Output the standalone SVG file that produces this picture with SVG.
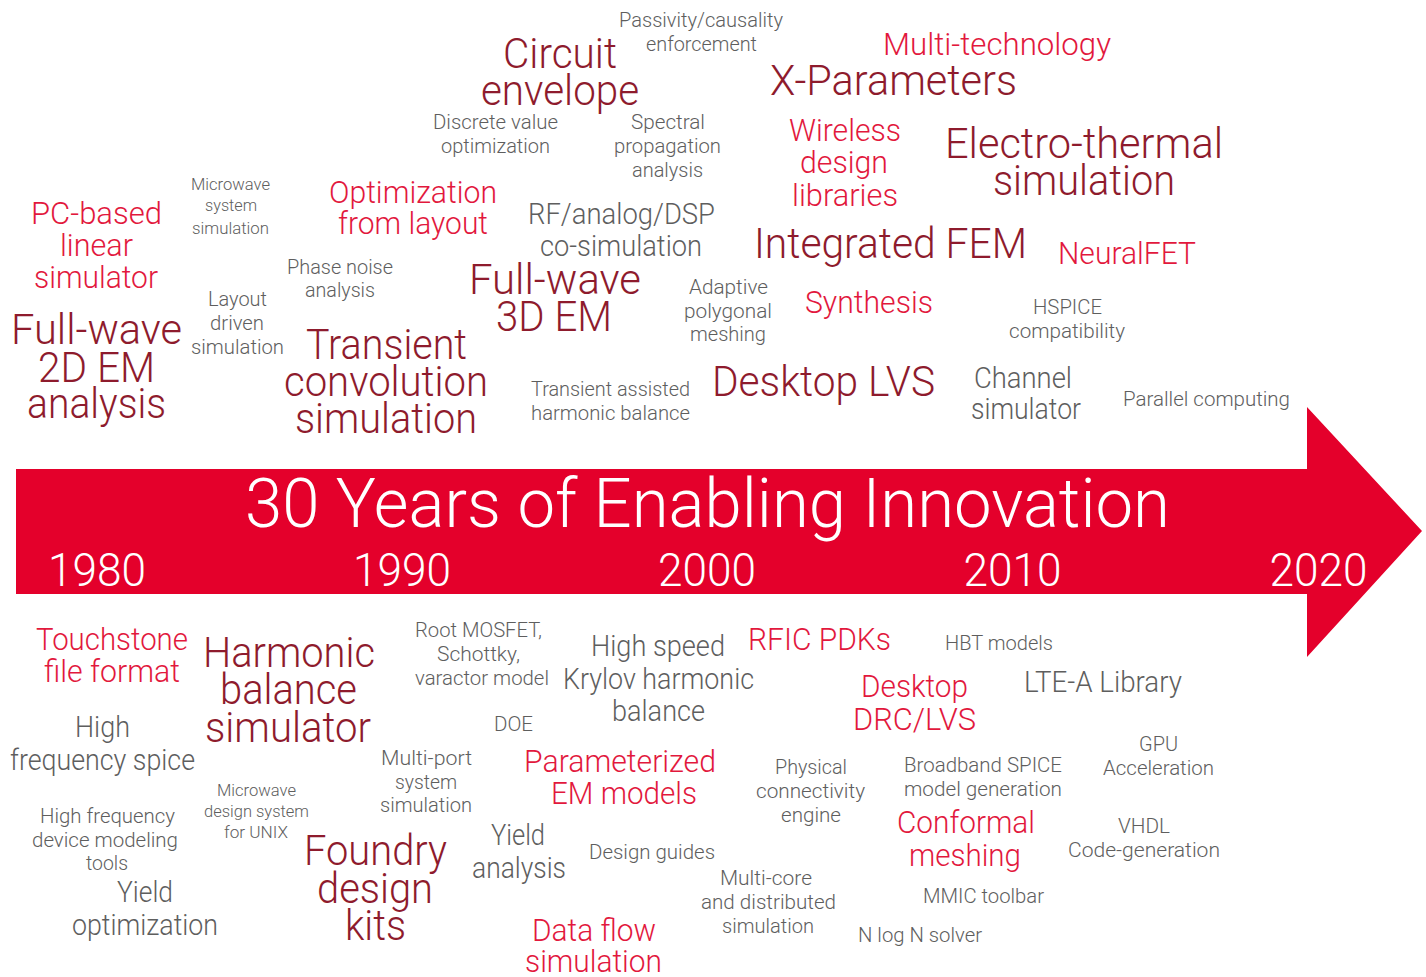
<svg xmlns="http://www.w3.org/2000/svg" width="1426" height="977" viewBox="0 0 1426 977">
<style>
text{font-family:Roboto,"Liberation Sans",sans-serif;font-weight:300;text-anchor:middle}
.dr{fill:#8e1b2d;font-size:42px}
.r{fill:#e2183d;font-size:31px}
.gm{fill:#5e5e5e;font-size:29px}
.gs{fill:#5e5e5e;font-size:21px}
.gt{fill:#5e5e5e;font-size:17px}
.w{fill:#ffffff}
</style>
<rect width="1426" height="977" fill="#ffffff"/>
<g id="arrow">
<polygon points="16,469 1307,469 1307,407 1422,531 1307,657 1307,594 16,594" fill="#e4002b"/>
<text class="w" x="707.5" y="527" font-size="68" textLength="925" lengthAdjust="spacingAndGlyphs">30 Years of Enabling Innovation</text>
<text class="w" x="97" y="586" font-size="47" textLength="98" lengthAdjust="spacingAndGlyphs">1980</text>
<text class="w" x="402" y="586" font-size="47" textLength="98" lengthAdjust="spacingAndGlyphs">1990</text>
<text class="w" x="707" y="586" font-size="47" textLength="98" lengthAdjust="spacingAndGlyphs">2000</text>
<text class="w" x="1012.5" y="586" font-size="47" textLength="98" lengthAdjust="spacingAndGlyphs">2010</text>
<text class="w" x="1318.5" y="586" font-size="47" textLength="98" lengthAdjust="spacingAndGlyphs">2020</text>
</g>
<g id="connectors"></g>
<g id="passivity"><text class="gs" x="701" y="27" textLength="164" lengthAdjust="spacingAndGlyphs">Passivity/causality</text><text class="gs" x="701.5" y="51" textLength="111" lengthAdjust="spacingAndGlyphs">enforcement</text></g>
<g id="circuit-envelope"><text class="dr" x="560" y="68" textLength="114" lengthAdjust="spacingAndGlyphs">Circuit</text><text class="dr" x="560" y="105" textLength="158" lengthAdjust="spacingAndGlyphs">envelope</text></g>
<g id="discrete"><text class="gs" x="495.5" y="129" textLength="125" lengthAdjust="spacingAndGlyphs">Discrete value</text><text class="gs" x="495.5" y="153" textLength="109" lengthAdjust="spacingAndGlyphs">optimization</text></g>
<g id="spectral"><text class="gs" x="668" y="129" textLength="74" lengthAdjust="spacingAndGlyphs">Spectral</text><text class="gs" x="667.5" y="153" textLength="107" lengthAdjust="spacingAndGlyphs">propagation</text><text class="gs" x="667.5" y="177" textLength="71" lengthAdjust="spacingAndGlyphs">analysis</text></g>
<g id="multi-tech"><text class="r" x="997" y="55" textLength="228" lengthAdjust="spacingAndGlyphs">Multi-technology</text></g>
<g id="x-params"><text class="dr" x="893.5" y="95" textLength="247" lengthAdjust="spacingAndGlyphs">X-Parameters</text></g>
<g id="wireless"><text class="r" x="845" y="141" textLength="112" lengthAdjust="spacingAndGlyphs">Wireless</text><text class="r" x="844" y="173" textLength="88" lengthAdjust="spacingAndGlyphs">design</text><text class="r" x="845" y="206" textLength="106" lengthAdjust="spacingAndGlyphs">libraries</text></g>
<g id="electro-thermal"><text class="dr" x="1084" y="158" textLength="278" lengthAdjust="spacingAndGlyphs">Electro-thermal</text><text class="dr" x="1084" y="195" textLength="182" lengthAdjust="spacingAndGlyphs">simulation</text></g>
<g id="mw-system"><text class="gt" x="230.5" y="190" textLength="79" lengthAdjust="spacingAndGlyphs">Microwave</text><text class="gt" x="231" y="211" textLength="52" lengthAdjust="spacingAndGlyphs">system</text><text class="gt" x="230.5" y="234" textLength="77" lengthAdjust="spacingAndGlyphs">simulation</text></g>
<g id="pc-based"><text class="r" x="96.5" y="224" textLength="131" lengthAdjust="spacingAndGlyphs">PC-based</text><text class="r" x="96.5" y="256" textLength="73" lengthAdjust="spacingAndGlyphs">linear</text><text class="r" x="96" y="288" textLength="124" lengthAdjust="spacingAndGlyphs">simulator</text></g>
<g id="opt-layout"><text class="r" x="413" y="203" textLength="168" lengthAdjust="spacingAndGlyphs">Optimization</text><text class="r" x="413" y="234" textLength="150" lengthAdjust="spacingAndGlyphs">from layout</text></g>
<g id="rf-dsp"><text class="gm" x="621.5" y="224" textLength="187" lengthAdjust="spacingAndGlyphs">RF/analog/DSP</text><text class="gm" x="621" y="256" textLength="162" lengthAdjust="spacingAndGlyphs">co-simulation</text></g>
<g id="int-fem"><text class="dr" x="890.5" y="258" textLength="273" lengthAdjust="spacingAndGlyphs">Integrated FEM</text></g>
<g id="neuralfet"><text class="r" x="1127" y="264" textLength="138" lengthAdjust="spacingAndGlyphs">NeuralFET</text></g>
<g id="phase-noise"><text class="gs" x="340" y="274" textLength="106" lengthAdjust="spacingAndGlyphs">Phase noise</text><text class="gs" x="340" y="297" textLength="70" lengthAdjust="spacingAndGlyphs">analysis</text></g>
<g id="fw-3d"><text class="dr" x="555" y="294" textLength="172" lengthAdjust="spacingAndGlyphs">Full-wave</text><text class="dr" x="554" y="331" textLength="116" lengthAdjust="spacingAndGlyphs">3D EM</text></g>
<g id="adaptive"><text class="gs" x="728.5" y="294" textLength="79" lengthAdjust="spacingAndGlyphs">Adaptive</text><text class="gs" x="728" y="318" textLength="88" lengthAdjust="spacingAndGlyphs">polygonal</text><text class="gs" x="728" y="341" textLength="76" lengthAdjust="spacingAndGlyphs">meshing</text></g>
<g id="synthesis"><text class="r" x="869" y="313" textLength="128" lengthAdjust="spacingAndGlyphs">Synthesis</text></g>
<g id="hspice"><text class="gs" x="1067.5" y="314" textLength="69" lengthAdjust="spacingAndGlyphs">HSPICE</text><text class="gs" x="1067" y="338" textLength="116" lengthAdjust="spacingAndGlyphs">compatibility</text></g>
<g id="layout-driven"><text class="gs" x="237.5" y="306" textLength="59" lengthAdjust="spacingAndGlyphs">Layout</text><text class="gs" x="237" y="330" textLength="54" lengthAdjust="spacingAndGlyphs">driven</text><text class="gs" x="237.5" y="354" textLength="93" lengthAdjust="spacingAndGlyphs">simulation</text></g>
<g id="fw-2d"><text class="dr" x="96.5" y="344" textLength="171" lengthAdjust="spacingAndGlyphs">Full-wave</text><text class="dr" x="96.5" y="382" textLength="117" lengthAdjust="spacingAndGlyphs">2D EM</text><text class="dr" x="96.5" y="418" textLength="139" lengthAdjust="spacingAndGlyphs">analysis</text></g>
<g id="transient-conv"><text class="dr" x="386.5" y="359" textLength="161" lengthAdjust="spacingAndGlyphs">Transient</text><text class="dr" x="386" y="396" textLength="204" lengthAdjust="spacingAndGlyphs">convolution</text><text class="dr" x="386" y="433" textLength="182" lengthAdjust="spacingAndGlyphs">simulation</text></g>
<g id="tahb"><text class="gs" x="610.5" y="396" textLength="159" lengthAdjust="spacingAndGlyphs">Transient assisted</text><text class="gs" x="610.5" y="420" textLength="159" lengthAdjust="spacingAndGlyphs">harmonic balance</text></g>
<g id="desktop-lvs"><text class="dr" x="823.5" y="396" textLength="223" lengthAdjust="spacingAndGlyphs">Desktop LVS</text></g>
<g id="channel"><text class="gm" x="1023" y="388" textLength="98" lengthAdjust="spacingAndGlyphs">Channel</text><text class="gm" x="1026" y="419" textLength="110" lengthAdjust="spacingAndGlyphs">simulator</text></g>
<g id="parallel"><text class="gs" x="1206.5" y="406" textLength="167" lengthAdjust="spacingAndGlyphs">Parallel computing</text></g>
<g id="touchstone"><text class="r" x="112" y="650" textLength="152" lengthAdjust="spacingAndGlyphs">Touchstone</text><text class="r" x="112" y="682" textLength="136" lengthAdjust="spacingAndGlyphs">file format</text></g>
<g id="harmonic"><text class="dr" x="289" y="667" textLength="172" lengthAdjust="spacingAndGlyphs">Harmonic</text><text class="dr" x="288.5" y="704" textLength="137" lengthAdjust="spacingAndGlyphs">balance</text><text class="dr" x="288" y="742" textLength="166" lengthAdjust="spacingAndGlyphs">simulator</text></g>
<g id="root-mosfet"><text class="gs" x="478.5" y="637" textLength="127" lengthAdjust="spacingAndGlyphs">Root MOSFET,</text><text class="gs" x="478.5" y="661" textLength="83" lengthAdjust="spacingAndGlyphs">Schottky,</text><text class="gs" x="482" y="685" textLength="134" lengthAdjust="spacingAndGlyphs">varactor model</text></g>
<g id="krylov"><text class="gm" x="658" y="656" textLength="134" lengthAdjust="spacingAndGlyphs">High speed</text><text class="gm" x="658.5" y="689" textLength="191" lengthAdjust="spacingAndGlyphs">Krylov harmonic</text><text class="gm" x="658.5" y="721" textLength="93" lengthAdjust="spacingAndGlyphs">balance</text></g>
<g id="rfic"><text class="r" x="819.5" y="650" textLength="143" lengthAdjust="spacingAndGlyphs">RFIC PDKs</text></g>
<g id="hbt"><text class="gs" x="999" y="650" textLength="108" lengthAdjust="spacingAndGlyphs">HBT models</text></g>
<g id="drc-lvs"><text class="r" x="914.5" y="697" textLength="107" lengthAdjust="spacingAndGlyphs">Desktop</text><text class="r" x="914.5" y="730" textLength="123" lengthAdjust="spacingAndGlyphs">DRC/LVS</text></g>
<g id="lte"><text class="gm" x="1103" y="692" textLength="158" lengthAdjust="spacingAndGlyphs">LTE-A Library</text></g>
<g id="hf-spice"><text class="gm" x="102.5" y="737" textLength="55" lengthAdjust="spacingAndGlyphs">High</text><text class="gm" x="102.5" y="770" textLength="185" lengthAdjust="spacingAndGlyphs">frequency spice</text></g>
<g id="doe"><text class="gs" x="513.5" y="731" textLength="39" lengthAdjust="spacingAndGlyphs">DOE</text></g>
<g id="multi-port"><text class="gs" x="426.5" y="765" textLength="91" lengthAdjust="spacingAndGlyphs">Multi-port</text><text class="gs" x="426" y="789" textLength="62" lengthAdjust="spacingAndGlyphs">system</text><text class="gs" x="426" y="812" textLength="92" lengthAdjust="spacingAndGlyphs">simulation</text></g>
<g id="param-em"><text class="r" x="620" y="772" textLength="192" lengthAdjust="spacingAndGlyphs">Parameterized</text><text class="r" x="624" y="804" textLength="146" lengthAdjust="spacingAndGlyphs">EM models</text></g>
<g id="physical"><text class="gs" x="811" y="774" textLength="72" lengthAdjust="spacingAndGlyphs">Physical</text><text class="gs" x="810.5" y="798" textLength="109" lengthAdjust="spacingAndGlyphs">connectivity</text><text class="gs" x="811" y="822" textLength="60" lengthAdjust="spacingAndGlyphs">engine</text></g>
<g id="broadband"><text class="gs" x="983" y="772" textLength="158" lengthAdjust="spacingAndGlyphs">Broadband SPICE</text><text class="gs" x="983" y="796" textLength="158" lengthAdjust="spacingAndGlyphs">model generation</text></g>
<g id="gpu"><text class="gs" x="1158.5" y="751" textLength="39" lengthAdjust="spacingAndGlyphs">GPU</text><text class="gs" x="1158.5" y="775" textLength="111" lengthAdjust="spacingAndGlyphs">Acceleration</text></g>
<g id="mw-unix"><text class="gt" x="256.5" y="796" textLength="79" lengthAdjust="spacingAndGlyphs">Microwave</text><text class="gt" x="256.5" y="817" textLength="105" lengthAdjust="spacingAndGlyphs">design system</text><text class="gt" x="256" y="838" textLength="64" lengthAdjust="spacingAndGlyphs">for UNIX</text></g>
<g id="hf-device"><text class="gs" x="107.5" y="823" textLength="135" lengthAdjust="spacingAndGlyphs">High frequency</text><text class="gs" x="105" y="847" textLength="146" lengthAdjust="spacingAndGlyphs">device modeling</text><text class="gs" x="107" y="870" textLength="42" lengthAdjust="spacingAndGlyphs">tools</text></g>
<g id="foundry"><text class="dr" x="375.5" y="865" textLength="143" lengthAdjust="spacingAndGlyphs">Foundry</text><text class="dr" x="375" y="903" textLength="116" lengthAdjust="spacingAndGlyphs">design</text><text class="dr" x="375.5" y="940" textLength="61" lengthAdjust="spacingAndGlyphs">kits</text></g>
<g id="yield-analysis"><text class="gm" x="518" y="845" textLength="54" lengthAdjust="spacingAndGlyphs">Yield</text><text class="gm" x="519" y="878" textLength="94" lengthAdjust="spacingAndGlyphs">analysis</text></g>
<g id="design-guides"><text class="gs" x="652" y="859" textLength="126" lengthAdjust="spacingAndGlyphs">Design guides</text></g>
<g id="conformal"><text class="r" x="966" y="833" textLength="138" lengthAdjust="spacingAndGlyphs">Conformal</text><text class="r" x="965" y="866" textLength="112" lengthAdjust="spacingAndGlyphs">meshing</text></g>
<g id="vhdl"><text class="gs" x="1144" y="833" textLength="52" lengthAdjust="spacingAndGlyphs">VHDL</text><text class="gs" x="1144" y="857" textLength="152" lengthAdjust="spacingAndGlyphs">Code-generation</text></g>
<g id="multi-core"><text class="gs" x="766" y="885" textLength="92" lengthAdjust="spacingAndGlyphs">Multi-core</text><text class="gs" x="768.5" y="909" textLength="135" lengthAdjust="spacingAndGlyphs">and distributed</text><text class="gs" x="768" y="933" textLength="92" lengthAdjust="spacingAndGlyphs">simulation</text></g>
<g id="mmic"><text class="gs" x="983.5" y="903" textLength="121" lengthAdjust="spacingAndGlyphs">MMIC toolbar</text></g>
<g id="yield-opt"><text class="gm" x="145" y="902" textLength="56" lengthAdjust="spacingAndGlyphs">Yield</text><text class="gm" x="145" y="935" textLength="146" lengthAdjust="spacingAndGlyphs">optimization</text></g>
<g id="nlogn"><text class="gs" x="920" y="942" textLength="124" lengthAdjust="spacingAndGlyphs">N log N solver</text></g>
<g id="data-flow"><text class="r" x="594" y="941" textLength="124" lengthAdjust="spacingAndGlyphs">Data flow</text><text class="r" x="593.5" y="972" textLength="137" lengthAdjust="spacingAndGlyphs">simulation</text></g>
</svg>
